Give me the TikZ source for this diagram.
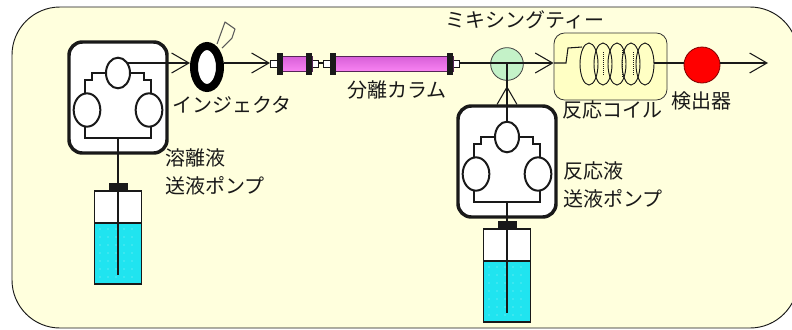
\documentclass[tikz,border=0pt]{standalone}
\usepackage{fontspec}
\newfontfamily\jpfont{Noto Sans CJK JP}
\usetikzlibrary{arrows.meta,shapes.geometric}

\definecolor{panelfill}{RGB}{255,255,221}
\definecolor{inkline}{RGB}{25,25,25}
\definecolor{liquid}{RGB}{32,228,240}
\definecolor{teegreen}{RGB}{196,242,200}
\definecolor{coilbg}{RGB}{255,255,196}
\definecolor{tubedark}{RGB}{215,95,215}
\definecolor{tubelight}{RGB}{255,190,252}
\definecolor{tubemid}{RGB}{248,130,242}
\definecolor{detred}{RGB}{255,0,0}

\tikzset{
  flow/.style={draw=inkline, line width=0.8pt},
  flowarrow/.style={flow, -{Straight Barb[length=13pt,width=15pt,line width=0.8pt]}},
  lbl/.style={font=\jpfont\fontsize{15pt}{21.5pt}\selectfont, text=inkline, inner sep=0pt, align=left},
  % peristaltic pump head: origin at the centre of the upper roller
  pump/.pic={
    \draw[inkline, line width=2.6pt, rounded corners=10pt, fill=white] (-49,-31) rectangle (49,80);
    \draw[inkline, line width=1.5pt] (0,0) -- (-26,0) -- (-26,7) -- (-33,7) -- (-33,30);
    \draw[inkline, line width=1.5pt] (0,0) -- (26,0) -- (26,7) -- (33,7) -- (33,30);
    \draw[inkline, line width=1.5pt] (-33,45) -- (-33,65) -- (33,65) -- (33,45);
    \draw[inkline, line width=1.5pt, fill=white] (0,0) ellipse [x radius=9pt, y radius=11.5pt];
    \draw[inkline, line width=1.5pt, fill=white] (-31,37) ellipse [x radius=10pt, y radius=12.5pt];
    \draw[inkline, line width=1.5pt, fill=white] (31,37) ellipse [x radius=10pt, y radius=12.5pt];
    \coordinate (-out) at (9,-10);
    \coordinate (-top) at (0,-15);
    \coordinate (-bot) at (0,65);
  },
  % reservoir bottle: origin at the top centre of the cap
  bottle/.pic={
    \fill[white] (-23.5,8) rectangle (23.5,101);
    \fill[liquid] (-23.5,40) rectangle (23.5,101);
    \foreach \dx in {-18,-10,...,18}
      \foreach \dy in {46,54,...,94}
        \fill[white, opacity=0.55] (\dx,\dy) circle[radius=0.5pt];
    \draw[inkline, line width=1.1pt] (-23.5,8) rectangle (23.5,101);
    \draw[inkline, line width=1.1pt] (-23.5,40) -- (23.5,40);
    \draw[inkline, line width=2pt] (-23.5,101) -- (23.5,101);
    \fill[inkline] (-9.5,0) rectangle (9.5,8);
    \coordinate (-tube) at (0,92);
  }
}

\begin{document}
\begin{tikzpicture}[x=0.75pt,y=-0.75pt]
\useasboundingbox (0,0) rectangle (792,329);
\clip (0,0) rectangle (792,329);
\fill[white] (0,0) rectangle (792,329);
\filldraw[fill=panelfill, draw=inkline, line width=0.7pt, rounded corners=36pt] (12,7) rectangle (798,328);

% reservoirs and pumps
\pic (lb) at (118,183) {bottle};
\pic (rb) at (507,221) {bottle};
\pic (lp) at (118,73) {pump};
\pic (rp) at (507,137) {pump};
\draw[flow] (lp-bot) -- (lb-tube);
\draw[flow] (rp-bot) -- (rb-tube);

% injector with its handle
\draw[black!65, line width=0.8pt, line join=round] (217,44) -- (225,22) -- (235,29) -- (232,38) -- (222,48);
\node[ellipse, draw=black, line width=6pt, fill=white, minimum width=19.5pt, minimum height=31.5pt, inner sep=0pt] (inj) at (207,67) {};

% separation column in two pieces
\foreach \name/\xa/\xb in {c1/277/312, c2/330/453} {
  \fill[white] (\xa-7,60) rectangle (\xb+6,67);
  \draw[inkline, line width=0.6pt] (\xa-7,60) rectangle (\xa,67);
  \draw[inkline, line width=0.6pt] (\xb,60) rectangle (\xb+6,67);
  \shade[top color=tubedark, middle color=tubelight, bottom color=tubemid] (\xa,56) rectangle (\xb,71);
  \draw[black!60!tubedark, line width=0.5pt] (\xa,56) rectangle (\xb,71);
  \fill[inkline] (\xa,53) rectangle (\xa+6,75);
  \fill[inkline] (\xb-6,53) rectangle (\xb,75);
  \coordinate (\name-in) at (\xa-7,63);
  \coordinate (\name-out) at (\xb+6,63);
}

% mixing tee, reaction coil, detector
\node[circle, draw=black!75, fill=teegreen, minimum size=24.5pt, inner sep=0pt, line width=0.6pt] (tee) at (507,64) {};
\node[draw=black!80, rounded corners=8pt, fill=coilbg, minimum width=84.75pt, minimum height=50.25pt, inner sep=0pt, line width=0.6pt] (coil) at (610.5,66.5) {};
\node[circle, draw=black!50!red, fill=detred, minimum size=27pt, inner sep=0pt, line width=0.6pt] (det) at (702,65) {};
\coordinate (out) at (768,63);

% coil winding
\draw[flow] (554,63) -- (566,63) -- (568,48) -- (582,47);
\foreach \cx in {589,603,617,631,645}
  \draw[inkline, line width=0.7pt] (\cx,64) ellipse [x radius=6.75pt, y radius=15.75pt];
\draw[inkline, densely dotted, line width=0.5pt] (603,52) -- (603,76) (622,50) -- (622,78) (633,52) -- (633,76);

% flow path
\draw[flowarrow] (lp-out) -- (lp-out -| inj.west);
\draw[flowarrow] (inj.east |- lp-out) -- (c1-in);
\draw[flow] (c1-out) -- (c2-in);
\draw[flow] (c2-out) -- (c2-out -| tee.west);
\draw[flow] (c2-out -| tee.west) -- (c2-out -| tee.east);
\draw[flow] (tee.center |- c2-out) -- (tee.south);
\draw[flowarrow] (c2-out -| tee.east) -- (c2-out -| coil.west);
\draw[flow] (654,63) -- (det.west |- c2-out);
\draw[flowarrow] (det.east |- out) -- (out);
\draw[flow] (rp-top) -- (tee.south);
\draw[flowarrow] (rp-top) -- ([yshift=-4pt]tee.south);

% labels
\node[lbl, anchor=west] (tinj) at (172,105) {インジェクタ};
\node[lbl, anchor=west] (tcol) at (347,90) {分離カラム};
\node[lbl, anchor=west] (tlp) at (165,172) {溶離液\\送液ポンプ};
\node[lbl, anchor=west] (trp) at (563,185) {反応液\\送液ポンプ};
\node[lbl, anchor=west] (ttee) at (445,20) {ミキシングティー};
\node[lbl, anchor=west] (tcoil) at (562,110) {反応コイル};
\node[lbl, anchor=west] (tdet) at (671,101) {検出器};
\end{tikzpicture}
\end{document}
